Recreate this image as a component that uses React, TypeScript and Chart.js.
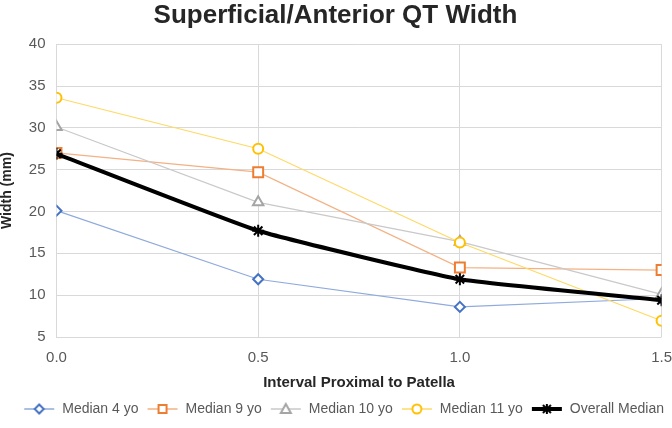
import React, { useEffect, useRef } from "react";
import { Chart, registerables } from "chart.js";

Chart.register(...registerables);

const intervals = [0, 0.5, 1.0, 1.5];
const median4 = [20.1, 11.9, 8.6, 9.6];
const median9 = [27.0, 24.7, 13.3, 13.0];
const median10 = [30.1, 21.1, 16.4, 10.1];
const median11 = [33.6, 27.5, 16.3, 6.95];
const overall = [26.9, 17.7, 11.9, 9.4];
const seriesNames = ["Median 4 yo", "Median 9 yo", "Median 10 yo", "Median 11 yo", "Overall Median"];
const yTicks = { min: 5, max: 40, step: 5 };

function legendIcon(style: string, marker: string, line: string, lineWidth: number, fill: string) {
  const c = document.createElement("canvas");
  c.width = 32;
  c.height = 14;
  const ctx = c.getContext("2d")!;
  ctx.strokeStyle = line;
  ctx.lineWidth = lineWidth;
  ctx.beginPath();
  ctx.moveTo(1, 7);
  ctx.lineTo(31, 7);
  ctx.stroke();
  ctx.strokeStyle = marker;
  ctx.fillStyle = fill;
  ctx.lineWidth = 2;
  const cx = 16, cy = 7, r = 4.5;
  ctx.beginPath();
  if (style === "rectRot") {
    ctx.moveTo(cx, cy - r); ctx.lineTo(cx + r, cy); ctx.lineTo(cx, cy + r); ctx.lineTo(cx - r, cy); ctx.closePath();
    ctx.fill(); ctx.stroke();
  } else if (style === "rect") {
    ctx.rect(cx - 4, cy - 4, 8, 8); ctx.fill(); ctx.stroke();
  } else if (style === "triangle") {
    ctx.moveTo(cx, cy - 5); ctx.lineTo(cx + 5, cy + 4); ctx.lineTo(cx - 5, cy + 4); ctx.closePath();
    ctx.fill(); ctx.stroke();
  } else if (style === "circle") {
    ctx.arc(cx, cy, 4.5, 0, Math.PI * 2); ctx.fill(); ctx.stroke();
  } else {
    ctx.lineWidth = 2;
    ctx.moveTo(cx - 4, cy - 4); ctx.lineTo(cx + 4, cy + 4);
    ctx.moveTo(cx + 4, cy - 4); ctx.lineTo(cx - 4, cy + 4);
    ctx.moveTo(cx, cy - 5); ctx.lineTo(cx, cy + 5);
    ctx.moveTo(cx - 5, cy); ctx.lineTo(cx + 5, cy);
    ctx.stroke();
  }
  return c;
}

export default function App() {
  const ref = useRef<HTMLCanvasElement>(null);
  useEffect(() => {
    document.body.style.margin = "0";
    const specs = [
      { data: median4, marker: "#4472C4", line: "#8FAADC", style: "rectRot", w: 1.2, r: 5 },
      { data: median9, marker: "#ED7D31", line: "#F4B183", style: "rect", w: 1.2, r: 7 },
      { data: median10, marker: "#A5A5A5", line: "#C9C9C9", style: "triangle", w: 1.2, r: 6 },
      { data: median11, marker: "#FFC000", line: "#FFD966", style: "circle", w: 1.2, r: 5 },
      { data: overall, marker: "#000000", line: "#000000", style: "star", w: 4, r: 6 },
    ];
    const icons = specs.map((s) => legendIcon(s.style, s.marker, s.line, s.w === 4 ? 4 : 1.5, "#ffffff"));
    const fam = "Liberation Sans, Arial, sans-serif";
    const chart = new Chart(ref.current!, {
      type: "line",
      data: {
        datasets: specs.map((s, i) => ({
          label: seriesNames[i],
          data: s.data.map((v, j) => ({ x: intervals[j], y: v })),
          borderColor: s.line,
          borderWidth: s.w,
          pointStyle: s.style as any,
          pointRadius: s.r,
          pointBorderColor: s.marker,
          pointBackgroundColor: i === 4 ? "#000000" : "#ffffff",
          pointBorderWidth: 2,
          tension: i === 4 ? 0.12 : 0,
          order: i === 4 ? 0 : 5 - i,
        })),
      },
      options: {
        animation: false,
        responsive: false,
        layout: { padding: { left: -1, right: 0, top: 0, bottom: 2 } },
        plugins: {
          title: {
            display: true,
            text: "Superficial/Anterior QT Width",
            font: { family: fam, size: 26, weight: "bold" },
            color: "#262626",
            padding: { top: 0, bottom: 13 },
          },
          legend: {
            position: "bottom",
            align: "end",
            labels: {
              usePointStyle: true,
              pointStyleWidth: 32,
              boxHeight: 14,
              padding: 8,
              font: { family: fam, size: 14 },
              color: "#595959",
              generateLabels: (ch: any) =>
                ch.data.datasets.map((d: any, i: number) => ({
                  text: d.label,
                  pointStyle: icons[i],
                  fillStyle: "transparent",
                  strokeStyle: "transparent",
                  lineWidth: 0,
                  hidden: false,
                  datasetIndex: i,
                  fontColor: "#595959",
                })),
            },
          },
          tooltip: { enabled: false },
        },
        scales: {
          x: {
            type: "linear",
            min: intervals[0],
            max: intervals[intervals.length - 1],
            ticks: {
              stepSize: 0.5,
              callback: (v: any) => Number(v).toFixed(1),
              font: { family: fam, size: 15 },
              color: "#595959",
              padding: 0,
            },
            grid: { color: "#D9D9D9", drawTicks: true, tickLength: 12, tickColor: "rgba(0,0,0,0)" },
            border: { display: false },
            title: {
              display: true,
              text: "Interval Proximal to Patella",
              font: { family: fam, size: 15, weight: "bold" },
              color: "#262626",
              padding: { top: 7, bottom: 2 },
            },
          },
          y: {
            min: yTicks.min,
            max: yTicks.max,
            ticks: {
              stepSize: yTicks.step,
              font: { family: fam, size: 15 },
              color: "#595959",
              padding: 11,
            },
            grid: { color: "#D9D9D9", drawTicks: false },
            border: { display: false },
            title: {
              display: true,
              text: "Width (mm)",
              font: { family: fam, size: 14, weight: "bold" },
              color: "#262626",
              padding: { top: 0, bottom: 2 },
            },
          },
        },
      },
    });
    return () => chart.destroy();
  }, []);
  return <canvas ref={ref} width={672} height={428} style={{ display: "block" }} />;
}
